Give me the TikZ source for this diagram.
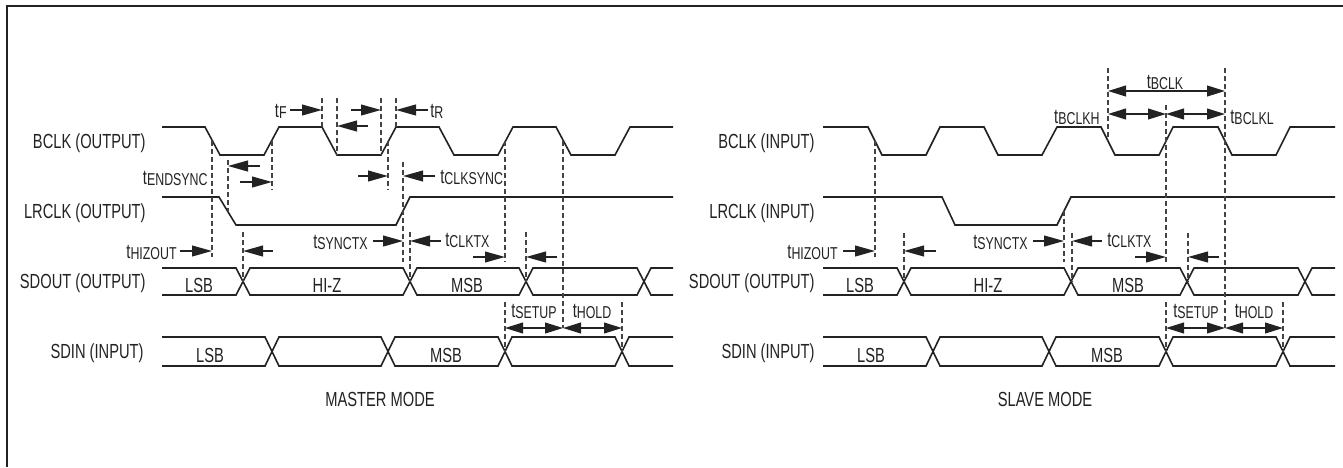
\documentclass[tikz,border=0pt]{standalone}
\usepackage{fontspec}
\setmainfont{Liberation Sans}[FakeStretch=0.72]
\usetikzlibrary{arrows.meta}
\definecolor{ink}{HTML}{222222}
\newcommand{\tsub}[1]{t\raisebox{-0.6pt}{\fontsize{8.6pt}{8.6pt}\selectfont #1}}
\tikzset{
  wave/.style={line width=0.8pt, draw=ink},
  guide/.style={line width=0.55pt, draw=ink!85, dash pattern=on 2.5pt off 1.5pt},
  tarr/.style={-{Triangle[length=10pt,width=5.4pt]}, line width=0.8pt, draw=ink},
  darr/.style={{Triangle[length=9pt,width=5.4pt]}-{Triangle[length=9pt,width=5.4pt]}, line width=0.8pt, draw=ink},
  sig/.style={anchor=east, inner sep=0pt, text height=7.3pt, text depth=0pt, text=ink},
  tlab/.style={inner sep=0pt, text height=7.3pt, text depth=0pt, text=ink},
  bus/.style={inner sep=0pt, text height=7.3pt, text depth=0pt, text=ink}
}
\begin{document}
\begin{tikzpicture}[x=0.5pt,y=-0.5pt,font=\fontsize{10.2pt}{12pt}\selectfont]
\useasboundingbox (0,0) rectangle (1343,467);
\draw [line width=1pt, ink] (1343,6) -- (7,6) -- (7,467);

% master mode
\node [sig] (bclkM) at (146,141) {BCLK (OUTPUT)};
\node [sig] (lrclkM) at (146,211) {LRCLK (OUTPUT)};
\node [sig] (sdoutM) at (146,281.5) {SDOUT (OUTPUT)};
\node [sig] (sdinM) at (144,351.5) {SDIN (INPUT)};
\draw [wave] (162,127) -- (205,127) -- (220,155) -- (264,155) -- (279,127) -- (322,127) -- (337,155) -- (381,155) -- (396,127) -- (439,127) -- (454,155) -- (498,155) -- (513,127) -- (556,127) -- (571,155) -- (615,155) -- (630,127) -- (673,127);
\draw [wave] (162,197) -- (219,197) -- (236,225) -- (396,225) -- (410,197) -- (673,197);
\draw [wave] (162,268) -- (236,268) -- (250,295) -- (403,295) -- (417,268) -- (519,268) -- (533,295) -- (637,295) -- (651,268) -- (673,268);
\draw [wave] (162,295) -- (236,295) -- (250,268) -- (403,268) -- (417,295) -- (519,295) -- (533,268) -- (637,268) -- (651,295) -- (673,295);
\draw [wave] (162,337) -- (265,337) -- (279,366) -- (381,366) -- (395,337) -- (498,337) -- (512,366) -- (615,366) -- (629,337) -- (673,337);
\draw [wave] (162,366) -- (265,366) -- (279,337) -- (381,337) -- (395,366) -- (498,366) -- (512,337) -- (615,337) -- (629,366) -- (673,366);
\node [bus] (lsbOutM) at (199,285) {LSB};
\node [bus] (hizM) at (327,285) {HI-Z};
\node [bus] (msbOutM) at (467,285) {MSB};
\node [bus] (lsbInM) at (210,355) {LSB};
\node [bus] (msbInM) at (446,355) {MSB};

\draw [guide] (212,141) -- (212,257);
\draw [guide] (228,160) -- (228,211);
\draw [guide] (243,232) -- (243,281.5);
\draw [guide] (272,141) -- (272,190);
\draw [guide] (322,98) -- (322,127);
\draw [guide] (337,98) -- (337,155);
\draw [guide] (381,98) -- (381,155);
\draw [guide] (396,98) -- (396,127);
\draw [guide] (388,141) -- (388,190);
\draw [guide] (403,162) -- (403,262);
\draw [guide] (410,232) -- (410,281.5);
\draw [guide] (505,141) -- (505,262);
\draw [guide] (526,232) -- (526,281.5);
\draw [guide] (563,141) -- (563,328);
\draw [guide] (505,302) -- (505,351.5);
\draw [guide] (622,302) -- (622,351.5);

\node [tlab, anchor=east] (tfM) at (287,110) {\tsub{F}};
\draw [tarr] (290,110) -- (322,110);
\draw [tarr] (368,126) -- (337,126);
\draw [tarr] (351,110) -- (381,110);
\draw [tarr] (428,110) -- (396,110);
\node [tlab, anchor=west] (trM) at (430,110) {\tsub{R}};
\node [tlab, anchor=east] (endsyncM) at (208,177) {\tsub{ENDSYNC}};
\draw [tarr] (260,166) -- (228,166);
\draw [tarr] (240,182) -- (272,182);
\draw [tarr] (358,176) -- (388,176);
\draw [tarr] (435,176) -- (403,176);
\node [tlab, anchor=west] (clksyncM) at (440,176) {\tsub{CLKSYNC}};
\node [tlab, anchor=east] (hizoutM) at (177,251) {\tsub{HIZOUT}};
\draw [tarr] (180,251) -- (212,251);
\draw [tarr] (273,251) -- (243,251);
\node [tlab, anchor=east] (synctxM) at (368,241) {\tsub{SYNCTX}};
\draw [tarr] (373,241) -- (403,241);
\draw [tarr] (441,241) -- (410,241);
\node [tlab, anchor=west] (clktxM) at (445,239) {\tsub{CLKTX}};
\draw [tarr] (473,257) -- (505,257);
\draw [tarr] (557,257) -- (526,257);
\node [tlab] (setupM) at (534,310) {\tsub{SETUP}};
\node [tlab] (holdM) at (592,310) {\tsub{HOLD}};
\draw [darr] (505,328) -- (563,328);
\draw [darr] (563,328) -- (622,328);
\node [tlab] (modeM) at (380,399) {MASTER MODE};

% slave mode
\node [sig] (bclkS) at (815,141) {BCLK (INPUT)};
\node [sig] (lrclkS) at (815,211) {LRCLK (INPUT)};
\node [sig] (sdoutS) at (815,281.5) {SDOUT (OUTPUT)};
\node [sig] (sdinS) at (815,351.5) {SDIN (INPUT)};
\draw [wave] (823,127) -- (868,127) -- (882,155) -- (926,155) -- (940,127) -- (984,127) -- (998,155) -- (1042,155) -- (1057,127) -- (1101,127) -- (1115,155) -- (1159,155) -- (1173,127) -- (1218,127) -- (1232,155) -- (1276,155) -- (1290,127) -- (1335,127);
\draw [wave] (823,197) -- (942,197) -- (955,225) -- (1057,225) -- (1071,197) -- (1335,197);
\draw [wave] (823,268) -- (897,268) -- (911,295) -- (1064,295) -- (1078,268) -- (1180,268) -- (1194,295) -- (1298,295) -- (1312,268) -- (1335,268);
\draw [wave] (823,295) -- (897,295) -- (911,268) -- (1064,268) -- (1078,295) -- (1180,295) -- (1194,268) -- (1298,268) -- (1312,295) -- (1335,295);
\draw [wave] (823,337) -- (926,337) -- (940,366) -- (1042,366) -- (1056,337) -- (1159,337) -- (1173,366) -- (1276,366) -- (1290,337) -- (1335,337);
\draw [wave] (823,366) -- (926,366) -- (940,337) -- (1042,337) -- (1056,366) -- (1159,366) -- (1173,337) -- (1276,337) -- (1290,366) -- (1335,366);
\node [bus] (lsbOutS) at (860,285) {LSB};
\node [bus] (hizS) at (988,285) {HI-Z};
\node [bus] (msbOutS) at (1128,285) {MSB};
\node [bus] (lsbInS) at (871,355) {LSB};
\node [bus] (msbInS) at (1107,355) {MSB};

\draw [guide] (875,141) -- (875,257);
\draw [guide] (904,233) -- (904,281.5);
\draw [guide] (1064,211) -- (1064,262);
\draw [guide] (1072,233) -- (1072,281.5);
\draw [guide] (1166,105) -- (1166,262);
\draw [guide] (1188,233) -- (1188,281.5);
\draw [guide] (1108,68) -- (1108,141);
\draw [guide] (1225,68) -- (1225,328);
\draw [guide] (1166,302) -- (1166,351.5);
\draw [guide] (1283,302) -- (1283,351.5);

\node [tlab, anchor=east] (hizoutS) at (838,251) {\tsub{HIZOUT}};
\draw [tarr] (843,251) -- (875,251);
\draw [tarr] (936,251) -- (904,251);
\node [tlab, anchor=east] (synctxS) at (1028,241) {\tsub{SYNCTX}};
\draw [tarr] (1033,241) -- (1064,241);
\draw [tarr] (1102,241) -- (1072,241);
\node [tlab, anchor=west] (clktxS) at (1107,239) {\tsub{CLKTX}};
\draw [tarr] (1135,257) -- (1166,257);
\draw [tarr] (1219,257) -- (1188,257);
\node [tlab] (tbclk) at (1165,81) {\tsub{BCLK}};
\draw [darr] (1108,91) -- (1225,91);
\node [tlab, anchor=east] (tbclkh) at (1100,116) {\tsub{BCLKH}};
\draw [darr] (1108,114) -- (1166,114);
\draw [darr] (1166,114) -- (1225,114);
\node [tlab, anchor=west] (tbclkl) at (1230,116) {\tsub{BCLKL}};
\node [tlab] (setupS) at (1196,310) {\tsub{SETUP}};
\node [tlab] (holdS) at (1254,310) {\tsub{HOLD}};
\draw [darr] (1166,328) -- (1225,328);
\draw [darr] (1225,328) -- (1283,328);
\node [tlab] (modeS) at (1045,399) {SLAVE MODE};
\end{tikzpicture}
\end{document}
